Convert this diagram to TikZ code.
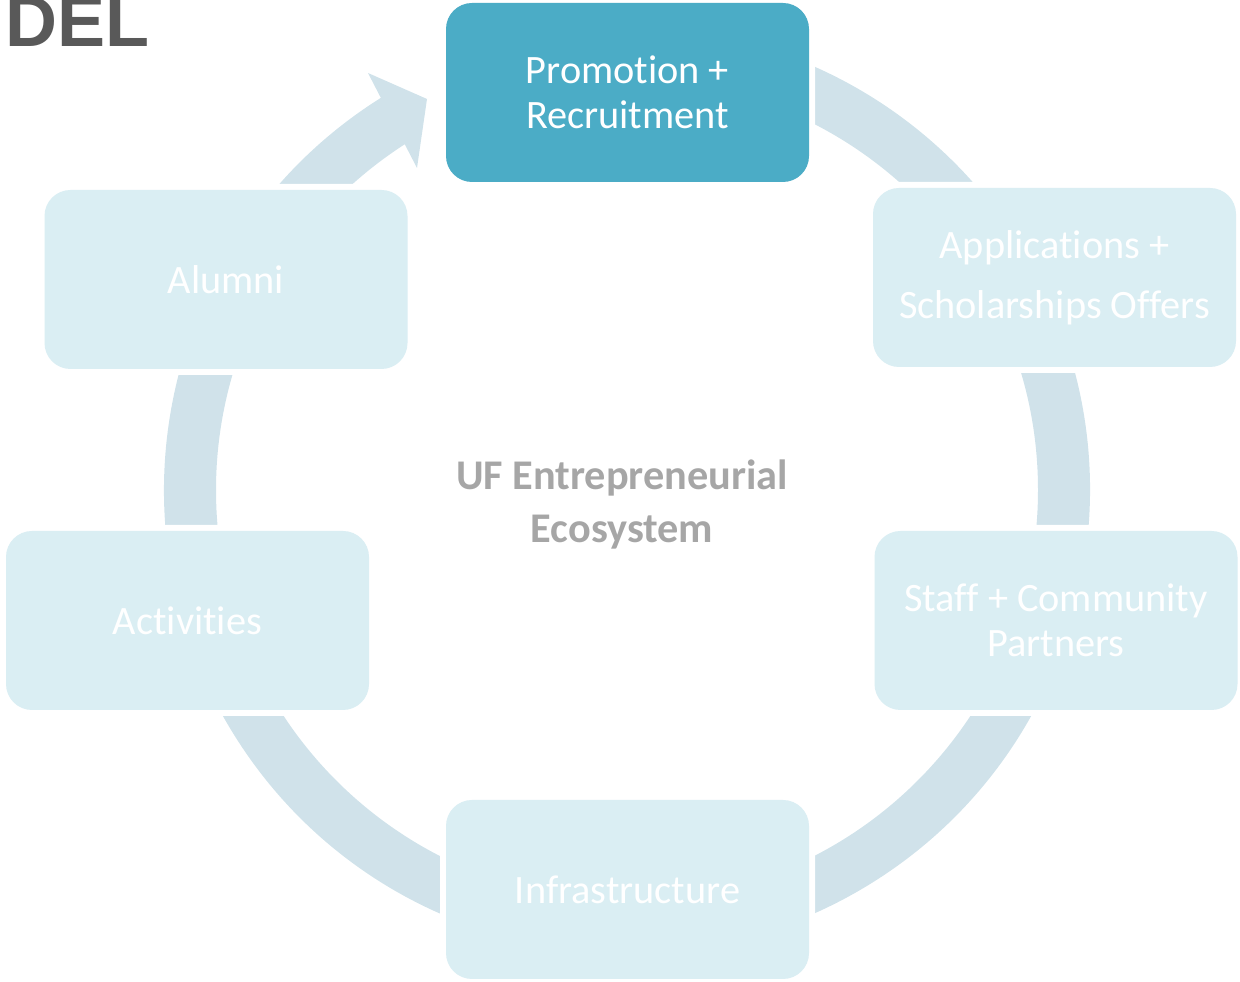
\documentclass[tikz,border=0pt]{standalone}
\usepackage{fontspec}
\usetikzlibrary{calc}
\setmainfont{Carlito}[Ligatures={NoCommon}]
\newfontfamily\arialbold{Liberation Sans}[BoldFont={* Bold}]
\definecolor{accent}{HTML}{4BACC6}
\definecolor{lightbox}{HTML}{DAEEF3}
\definecolor{ringcol}{HTML}{D0E2EA}
\definecolor{midgray}{HTML}{A6A6A6}
\definecolor{titlegray}{HTML}{595959}
\tikzset{
  cyclebox/.style={rounded corners=26pt, minimum width=363pt, minimum height=179pt,
    inner sep=0pt, fill=lightbox, text=white, align=center,
    preaction={draw=white, line width=12pt},
    font=\fontsize{40.3pt}{45pt}\selectfont},
  ringfill/.style={fill=ringcol},
}
\begin{document}
\begin{tikzpicture}[x=1pt,y=1pt]
\useasboundingbox (0,0) rectangle (1240,982);
\coordinate (C) at (627,492);
% ring
\fill[ringfill] ($(C)+(121.5:463)$) arc[start angle=121.5, end angle=450, radius=463pt]
  -- ($(C)+(90:411)$) arc[start angle=450, end angle=121.5, radius=411pt] -- cycle;
% arrow head
\coordinate (hb1) at (368,909);
\coordinate (htip) at (427,883);
\coordinate (hb2) at (417,814);
\fill[ringfill] (hb1) -- (htip) -- (hb2) -- cycle;
% boxes
\node[cyclebox, fill=accent] (prom) at (627.5,889.5) {Promotion +\\Recruitment};
\node[cyclebox, font=\fontsize{40.3pt}{60pt}\selectfont] (appl) at (1054.5,704.5) {Applications +\\Scholarships Offers};
\node[cyclebox] (staff) at (1056,361.5) {Staff + Community\\Partners};
\node[cyclebox] (infra) at (627.5,92.5) {Infrastructure};
\node[cyclebox] (activ) at (187.5,361.5) {Activities};
\node[cyclebox] (alum) at (226,702.5) {Alumni};
% centre
\node[text=midgray, align=center, font=\fontsize{42.3pt}{53pt}\selectfont\bfseries] (eco) at (622,478) {UF Entrepreneurial\\Ecosystem};
% title fragment
\node[anchor=base west, inner sep=0pt, text=titlegray, font=\arialbold\bfseries\fontsize{72pt}{80pt}\selectfont] (title) at (5,935) {DEL};
\end{tikzpicture}
\end{document}
